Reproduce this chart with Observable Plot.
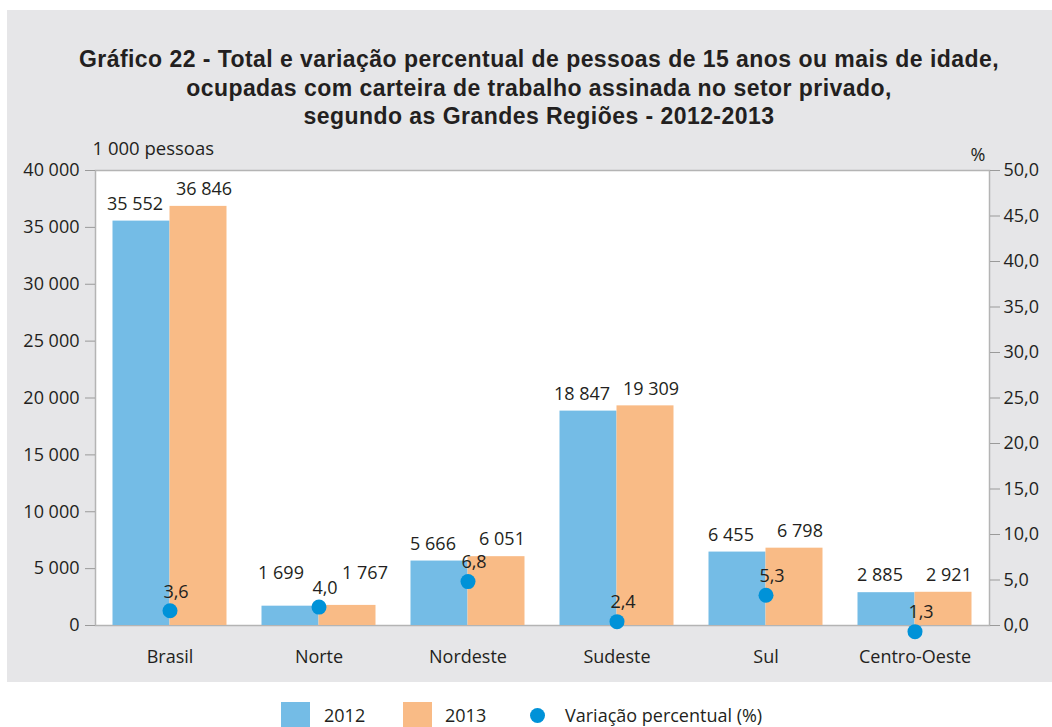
<!DOCTYPE html>
<html>
<head>
<meta charset="utf-8">
<script src="https://cdn.jsdelivr.net/npm/d3@7"></script>
<script src="https://cdn.jsdelivr.net/npm/@observablehq/plot@0.6"></script>
<style>
  html, body { margin: 0; padding: 0; background: #ffffff; }
  body { width: 1052px; height: 727px; overflow: hidden; position: relative;
         font-family: "Open Sans", "Liberation Sans", Arial, sans-serif; color: #231f20; }
  #panel { position: absolute; left: 7px; top: 10px; width: 1045px; height: 672px; background: #e6e6e8; }
  #title { position: absolute; left: 0; top: 45px; width: 1078px; text-align: center;
           font-family: "Liberation Sans", Arial, sans-serif; font-weight: bold;
           font-size: 23px; letter-spacing: 0.45px; line-height: 28.5px; color: #231f20; }
  #chart { position: absolute; left: 0; top: 120px; }
  .leg-sw { position: absolute; top: 702px; width: 29px; height: 30px; }
  .leg-dot { position: absolute; width: 15px; height: 15px; border-radius: 50%; top: 708px; }
  .leg-tx { position: absolute; top: 703px; font-size: 18px; line-height: 24px; color: #231f20; }
</style>
</head>
<body>
<div id="panel"></div>
<div id="title">Gráfico 22 - Total e variação percentual de pessoas de 15 anos ou mais de idade,<br>ocupadas com carteira de trabalho assinada no setor privado,<br>segundo as Grandes Regiões - 2012-2013</div>
<div id="chart"></div>
<div id="legend"></div>
<script>
// ---- data ----
const regioes = ["Brasil", "Norte", "Nordeste", "Sudeste", "Sul", "Centro-Oeste"];
const valores2012 = [35552, 1699, 5666, 18847, 6455, 2885];
const valores2013 = [36846, 1767, 6051, 19309, 6798, 2921];
const variacao = [3.6, 4.0, 6.8, 2.4, 5.3, 1.3];
const anos = ["2012", "2013"];
const rotuloVariacao = "Variação percentual (%)";
const ticksPessoas = [0, 5000, 10000, 15000, 20000, 25000, 30000, 35000, 40000];
const ticksPercent = [0, 5, 10, 15, 20, 25, 30, 35, 40, 45, 50];
const eixoEsquerdo = "1 000 pessoas";
const eixoDireito = "%";

// ---- styling ----
const cores = ["#74bce6", "#f9bb86"];
const corVariacao = "#0092d8";
const fator = 40000 / 50; // right axis (%) mapped onto the left (1 000 pessoas) scale

const loc = d3.formatLocale({decimal: ",", thousands: " ", grouping: [3], currency: ["", ""]});
const fmtInt = loc.format(",d");
const fmtDec = loc.format(".1f");

const d2012 = regioes.map((r, i) => ({regiao: r, valor: valores2012[i]}));
const d2013 = regioes.map((r, i) => ({regiao: r, valor: valores2013[i]}));
const dVar = regioes.map((r, i) => ({regiao: r, v: variacao[i]}));

const inA = 17.5, inB = 74.5; // bar insets within band (px)
const txt = {fill: "#231f20", fontSize: 18, lineAnchor: "middle"};

const chart = Plot.plot({
  width: 1052,
  height: 560,
  marginLeft: 95,
  marginRight: 63,
  marginTop: 50,
  marginBottom: 55,
  style: {background: "transparent", fontFamily: "'Open Sans', 'Liberation Sans', Arial, sans-serif", color: "#231f20"},
  x: {domain: regioes, padding: 0, label: null},
  y: {domain: [0, 40000], label: null},
  marks: [
    Plot.frame({fill: "#ffffff", stroke: "#b4b4b4", strokeWidth: 1.5}),
    Plot.barY(d2012, {x: "regiao", y: "valor", fill: cores[0], insetLeft: inA, insetRight: inB}),
    Plot.barY(d2013, {x: "regiao", y: "valor", fill: cores[1], insetLeft: inB, insetRight: inA}),
    Plot.axisY(ticksPessoas, {anchor: "left", tickFormat: fmtInt, tickSize: 10, tickPadding: 6, stroke: "#9a9a9a", fill: "#231f20", fontSize: 18, label: null}),
    Plot.axisY(ticksPercent.map(p => p * fator), {anchor: "right", tickFormat: d => fmtDec(d / fator), tickSize: 10, tickPadding: 4, stroke: "#9a9a9a", fill: "#231f20", fontSize: 18, label: null}),
    Plot.axisX({tickSize: 0, tickPadding: 25, fill: "#231f20", fontSize: 18, label: null}),
    Plot.text([eixoEsquerdo], {frameAnchor: "top-left", textAnchor: "start", dx: -3, dy: -21, ...txt, fontSize: 18.5}),
    Plot.text([eixoDireito], {frameAnchor: "top-right", textAnchor: "end", dx: -4, dy: -15, ...txt, fontSize: 18}),
    Plot.text(d2012.filter(d => d.regiao !== "Norte"), {x: "regiao", y: "valor", text: d => fmtInt(d.valor), dx: -35, dy: -17, ...txt}),
    Plot.text(d2013.filter(d => d.regiao !== "Norte"), {x: "regiao", y: "valor", text: d => fmtInt(d.valor), dx: 34, dy: -17, ...txt}),
    Plot.text(d2012.filter(d => d.regiao === "Norte"), {x: "regiao", y: "valor", text: d => fmtInt(d.valor), dx: -38, dy: -33, ...txt}),
    Plot.text(d2013.filter(d => d.regiao === "Norte"), {x: "regiao", y: "valor", text: d => fmtInt(d.valor), dx: 46, dy: -32, ...txt}),
    Plot.dot(dVar, {x: "regiao", y: d => d.v * fator, r: 7.5, fill: corVariacao, dy: 18}),
    Plot.text(dVar, {x: "regiao", y: d => d.v * fator, text: d => fmtDec(d.v), dx: 6, dy: -1, ...txt})
  ]
});
document.getElementById("chart").appendChild(chart);

// ---- legend ----
const leg = document.getElementById("legend");
const legItems = [
  {type: "sw", color: cores[0], label: anos[0], x: 281, tx: 324},
  {type: "sw", color: cores[1], label: anos[1], x: 403, tx: 445},
  {type: "dot", color: corVariacao, label: rotuloVariacao, x: 530, tx: 565}
];
for (const it of legItems) {
  const m = document.createElement("div");
  m.className = it.type === "sw" ? "leg-sw" : "leg-dot";
  m.style.left = it.x + "px";
  m.style.background = it.color;
  leg.appendChild(m);
  const t = document.createElement("div");
  t.className = "leg-tx";
  t.style.left = it.tx + "px";
  t.textContent = it.label;
  leg.appendChild(t);
}
</script>
</body>
</html>
